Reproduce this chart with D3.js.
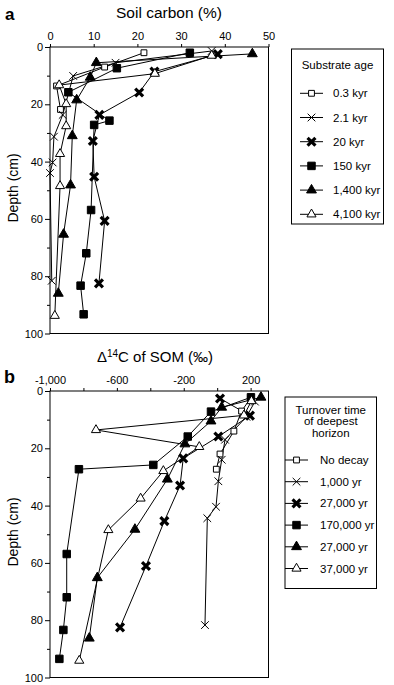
<!DOCTYPE html>
<html>
<head>
<meta charset="utf-8">
<script src="https://cdn.jsdelivr.net/npm/d3@7"></script>
<style>
  body { margin: 0; background: #fff; }
  svg { font-family: "Liberation Sans", Arial, sans-serif; }
</style>
</head>
<body>
<svg id="chart" width="394" height="685"></svg>
<script>
// panel a: soil carbon (%) vs depth
const ageLabels = ["0.3 kyr", "2.1 kyr", "20 kyr", "150 kyr", "1,400 kyr", "4,100 kyr"];
const carbon03 = [21.5, 12.5, 1.5, 2.4];
const depth03 = [2, 7, 13.6, 21.8];
const carbon21 = [37, 15, 5.3, 2.9, 0.9, 0.6, 0, 0.4];
const depth21 = [1.4, 5.5, 10.1, 23.7, 31.3, 40.3, 44, 81.6];
const carbon20 = [38.4, 23.9, 20.4, 11.3, 9.8, 10.1, 12.5, 11.2];
const depth20 = [2.5, 8.6, 15.9, 23.7, 32.8, 45.3, 60.7, 82.5];
const carbon150 = [32, 15.3, 4.2, 13.6, 10.1, 9.4, 8.3, 7, 7.7];
const depth150 = [2, 7.4, 15.8, 25.7, 27.2, 56.9, 72, 83.3, 93.3];
const carbon1400 = [46.3, 10.6, 9.2, 6.1, 5.1, 4.7, 3.1, 1.9];
const depth1400 = [2.4, 5.5, 10.6, 18.5, 31, 48.2, 65.4, 86];
const carbon4100 = [37, 24, 2.1, 3.7, 3.7, 2.3, 2.3, 1.1];
const depth4100 = [3, 9.3, 13.3, 19.9, 27.6, 37.3, 48.5, 93.8];

// panel b: delta 14C of SOM vs depth
const turnoverLabels = ["No decay", "1,000 yr", "27,000 yr", "170,000 yr", "27,000 yr", "37,000 yr"];
const c14NoDecay = [200, 146, 100, 17, -5];
const depthNoDecay = [2.5, 7, 14, 22, 27.3];
const c14_1k = [226, 175, 47, 27, 7, -7, -59, -73];
const depth_1k = [3.7, 9, 17, 24, 31.5, 40.4, 44.4, 81.7];
const c14_27k = [17, 196, 7, -203, -222, -316, -426, -581];
const depth_27k = [2.6, 8.6, 15.9, 23.5, 33, 45.4, 61.1, 82.5];
const c14_170k = [202, -37, -176, -382, -827, -900, -900, -920, -944];
const depth_170k = [2.2, 7.2, 15.9, 25.8, 27.3, 56.9, 72, 83.4, 93.5];
const c14_27kb = [262, 27, -37, -193, -298, -492, -717, -765];
const depth_27kb = [2.2, 5.7, 10.5, 18.5, 30.8, 48.3, 65.2, 86.3];
const c14_37k = [205, 160, -725, -107, -322, -458, -651, -825];
const depth_37k = [3.5, 8.5, 13.6, 19.5, 27.9, 37.5, 48.5, 94.1];

const topTicks = [0, 10, 20, 30, 40, 50];
const botTicks = [-1000, -800, -600, -400, -200, 0, 200];
const botTickLabels = [-1000, -600, -200, 200];
const depthTicks = [0, 20, 40, 60, 80, 100];

// marker styles, same order for both legends
const markers = [
    { type: d3.symbolSquare, size: 34, fill: "#fff", sw: 1 },
    { type: d3.symbolTimes, size: 40, fill: "none", sw: 1 },
    { type: d3.symbolTimes, size: 42, fill: "none", sw: 3.2 },
    { type: d3.symbolSquare, size: 56, fill: "#000", sw: 1 },
    { type: d3.symbolTriangle, size: 42, fill: "#000", sw: 1 },
    { type: d3.symbolTriangle, size: 36, fill: "#fff", sw: 1 }
];

const svg = d3.select("#chart");
const fmt = d3.format(",");
// plain hyphen for negatives, like the original figure
const tickText = d => d < 0 ? "-" + fmt(-d) : fmt(d);

function zip(xs, ys) { return xs.map((v, i) => ({ v: v, d: ys[i] })); }

function drawPanel(opts) {
    const x = d3.scaleLinear().domain(opts.xDomain).range([50, 268.5]);
    const y = d3.scaleLinear().domain([0, 100]).range([opts.top, opts.top + 286.5]);
    const g = svg.append("g");

    g.append("rect")
        .attr("x", 50).attr("y", opts.top)
        .attr("width", 218.5).attr("height", 286.5)
        .attr("fill", "none").attr("stroke", "#000").attr("stroke-width", 1);

    const xa = g.append("g")
        .attr("transform", `translate(0,${opts.top})`)
        .call(d3.axisTop(x).tickValues(opts.xTicks).tickSize(3).tickPadding(4)
            .tickFormat(d => opts.xLabels.includes(d) ? tickText(d) : ""));
    xa.select(".domain").remove();
    xa.selectAll("text").style("font-size", "11px").attr("font-family", null);

    const ya = g.append("g")
        .attr("transform", "translate(50,0)")
        .call(d3.axisLeft(y).tickValues(depthTicks).tickSize(5).tickPadding(2));
    ya.select(".domain").remove();
    ya.selectAll("text").style("font-size", "11px").attr("font-family", null);

    g.append("g")
        .attr("transform", "translate(50,0)")
        .call(d3.axisLeft(y).tickValues([10, 30, 50, 70, 90]).tickSize(3).tickFormat(""))
        .select(".domain").remove();

    const line = d3.line().x(p => x(p.v)).y(p => y(p.d));
    opts.series.forEach(s => {
        g.append("path").datum(zip(s[0], s[1]))
            .attr("fill", "none").attr("stroke", "#000").attr("stroke-width", 1)
            .attr("d", line);
    });
    opts.series.forEach((s, i) => {
        const m = markers[i];
        g.selectAll(null).data(zip(s[0], s[1])).enter().append("path")
            .attr("transform", p => `translate(${x(p.v)},${y(p.d)})`)
            .attr("d", d3.symbol(m.type, m.size))
            .attr("fill", m.fill).attr("stroke", "#000").attr("stroke-width", m.sw);
    });

    svg.append("text")
        .attr("x", 13).attr("y", opts.top + 141)
        .attr("transform", `rotate(-90,13,${opts.top + 141})`)
        .attr("text-anchor", "middle").attr("dominant-baseline", "central")
        .style("font-size", "14px")
        .text("Depth (cm)");
}

drawPanel({
    top: 47, xDomain: [0, 50], xTicks: topTicks, xLabels: topTicks,
    series: [[carbon03, depth03], [carbon21, depth21], [carbon20, depth20],
             [carbon150, depth150], [carbon1400, depth1400], [carbon4100, depth4100]]
});
drawPanel({
    top: 391, xDomain: [-1000, 307], xTicks: botTicks, xLabels: botTickLabels,
    series: [[c14NoDecay, depthNoDecay], [c14_1k, depth_1k], [c14_27k, depth_27k],
             [c14_170k, depth_170k], [c14_27kb, depth_27kb], [c14_37k, depth_37k]]
});

// titles and panel letters
svg.append("text").attr("x", 169).attr("y", 18).attr("text-anchor", "middle")
    .style("font-size", "15.5px").text("Soil carbon (%)");
svg.append("text").attr("x", 5).attr("y", 20)
    .style("font-size", "17px").style("font-weight", "bold").text("a");

const t2 = svg.append("text").attr("x", 155).attr("y", 362).attr("text-anchor", "middle")
    .style("font-size", "15px");
t2.append("tspan").text("\u0394");
t2.append("tspan").attr("dy", -5).style("font-size", "10px").text("14");
t2.append("tspan").attr("dy", 5).text("C of SOM (\u2030)");
svg.append("text").attr("x", 4).attr("y", 383)
    .style("font-size", "18px").style("font-weight", "bold").text("b");

// legends
function drawLegend(opts) {
    const g = svg.append("g");
    g.append("rect")
        .attr("x", opts.x).attr("y", opts.y).attr("width", opts.w).attr("height", opts.h)
        .attr("fill", "#fff").attr("stroke", "#000").attr("stroke-width", 1);
    opts.title.forEach((t, i) => {
        g.append("text")
            .attr("x", opts.x + opts.w / 2).attr("y", opts.titleY + i * 11.8)
            .attr("text-anchor", "middle").attr("dominant-baseline", "central")
            .style("font-size", "11.5px").text(t);
    });
    const row = g.selectAll(null).data(opts.labels).enter().append("g")
        .attr("transform", (d, i) => `translate(0,${opts.rowY + i * opts.step})`);
    row.append("line")
        .attr("x1", opts.lineX).attr("x2", opts.lineX + 23)
        .attr("stroke", "#000").attr("stroke-width", 1);
    row.append("path")
        .attr("transform", `translate(${opts.lineX + 11.5},0)`)
        .attr("d", (d, i) => d3.symbol(markers[i].type, markers[i].size)())
        .attr("fill", (d, i) => markers[i].fill)
        .attr("stroke", "#000")
        .attr("stroke-width", (d, i) => markers[i].sw);
    row.append("text")
        .attr("x", opts.textX).attr("dominant-baseline", "central")
        .style("font-size", "11.5px").text(d => d);
}

drawLegend({
    x: 291.5, y: 49, w: 92, h: 175, title: ["Substrate age"], titleY: 65,
    labels: ageLabels, rowY: 93.3, step: 24.2, lineX: 300, textX: 333
});
drawLegend({
    x: 285, y: 397, w: 91.5, h: 191.5, title: ["Turnover time", "of deepest", "horizon"], titleY: 409.5,
    labels: turnoverLabels, rowY: 460, step: 21.7, lineX: 285, textX: 320
});
</script>
</body>
</html>
